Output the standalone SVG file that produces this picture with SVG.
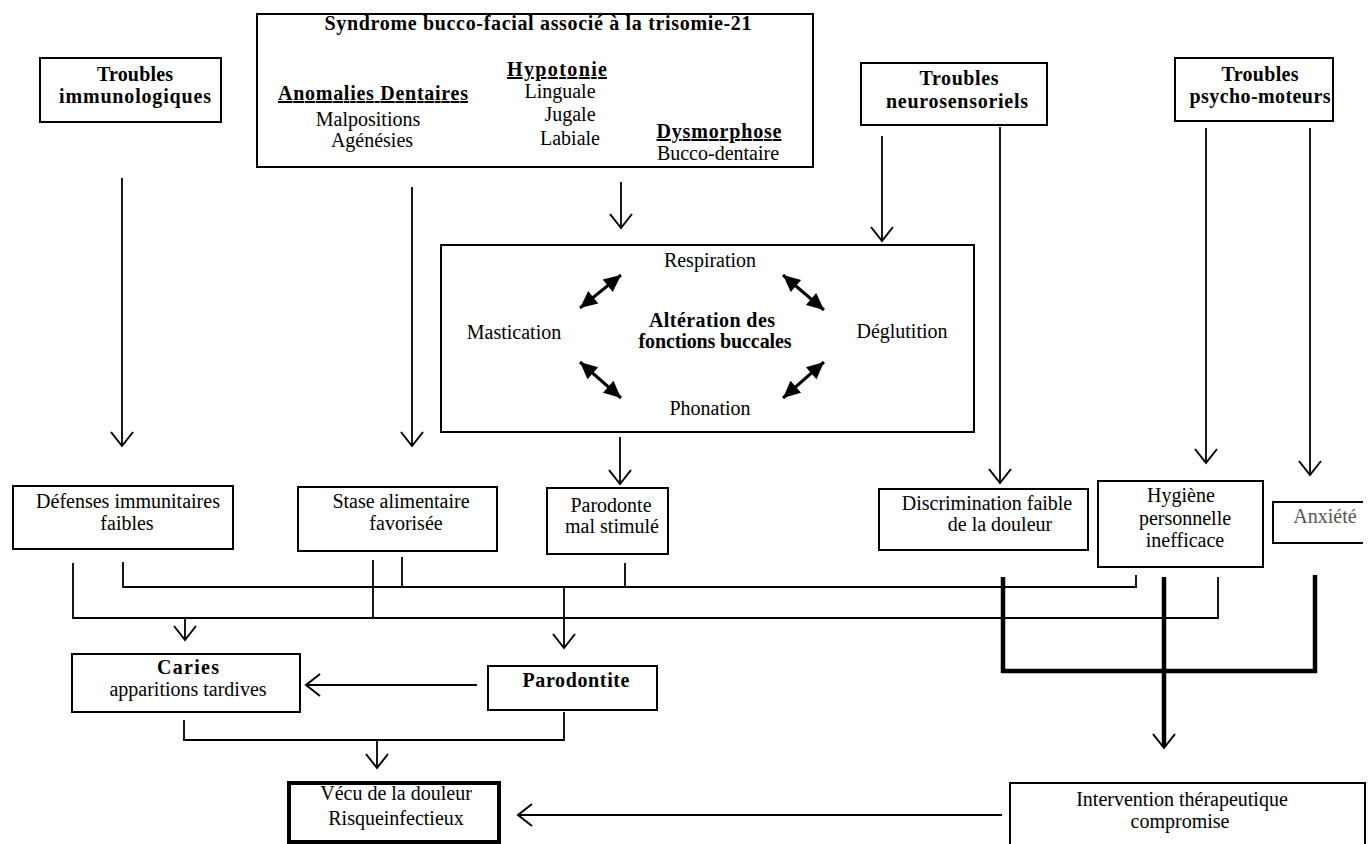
<svg xmlns="http://www.w3.org/2000/svg" width="1372" height="844" viewBox="0 0 1372 844">
<style>
.box{fill:#fff;stroke:#000;stroke-width:2}
.thick{stroke-width:4}
.t{font-family:"Liberation Serif","Times New Roman",serif;font-size:20px;text-anchor:middle;fill:#000}
.b{font-weight:bold}
.u{text-decoration:underline}
.ln{fill:none;stroke:#000;stroke-width:1.8}
.bl{fill:none;stroke:#000;stroke-width:4.5}
.da{fill:none;stroke:#000;stroke-width:3}
</style>
<defs>
<marker id="ah" viewBox="-16 -13 18 26" markerWidth="18" markerHeight="26" refX="0" refY="0" orient="auto" markerUnits="userSpaceOnUse">
<path d="M-14,-11 L0,0 L-14,11" fill="none" stroke="#000" stroke-width="2"/>
</marker>
<marker id="fh" viewBox="-18 -10 20 20" markerWidth="20" markerHeight="20" refX="0" refY="0" orient="auto-start-reverse" markerUnits="userSpaceOnUse">
<path d="M0,0 L-17,-8 L-17,8 Z" fill="#000"/>
</marker>
</defs>
<rect width="1372" height="844" fill="#fff"/>

<g id="connectors">
<path class="ln" d="M122,178 V446" marker-end="url(#ah)"/>
<path class="ln" d="M412,187 V446" marker-end="url(#ah)"/>
<path class="ln" d="M621,182 V228" marker-end="url(#ah)"/>
<path class="ln" d="M882,136 V241" marker-end="url(#ah)"/>
<path class="ln" d="M1000,127 V483" marker-end="url(#ah)"/>
<path class="ln" d="M1206,128 V463" marker-end="url(#ah)"/>
<path class="ln" d="M1310,128 V475" marker-end="url(#ah)"/>
<path class="ln" d="M620,437 V484" marker-end="url(#ah)"/>
<path class="ln" d="M123,562 V587 H1136 V575"/>
<path class="ln" d="M402,557 V587"/>
<path class="ln" d="M625,563 V587"/>
<path class="ln" d="M564,587 V648" marker-end="url(#ah)"/>
<path class="ln" d="M73,563 V618 H1218 V577"/>
<path class="ln" d="M373,560 V618"/>
<path class="ln" d="M185,618 V640" marker-end="url(#ah)"/>
<path class="bl" d="M1003,577 V671 H1315 V575"/>
<path class="bl" d="M1164,577 V747"/>
<path class="ln" d="M1164,740 V748" marker-end="url(#ah)"/>
<path class="ln" d="M477,685 H306" marker-end="url(#ah)"/>
<path class="ln" d="M184,720 V740 H564 V712"/>
<path class="ln" d="M377,740 V768" marker-end="url(#ah)"/>
<path class="ln" d="M1002,815 H518" marker-end="url(#ah)"/>
</g>

<g id="troubles-immuno">
<rect class="box" x="40" y="58" width="181" height="64"/>
<text class="t b" x="135" y="81" textLength="76">Troubles</text>
<text class="t b" x="135" y="103" textLength="152">immunologiques</text>
</g>

<g id="syndrome">
<rect class="box" x="257" y="14" width="556" height="153"/>
<text class="t b" x="538" y="30" textLength="427">Syndrome bucco-facial associé à la trisomie-21</text>
<text class="t b u" x="373" y="100" textLength="190">Anomalies Dentaires</text>
<text class="t" x="368" y="126">Malpositions</text>
<text class="t" x="372" y="147">Agénésies</text>
<text class="t b u" x="557" y="76" textLength="100">Hypotonie</text>
<text class="t" x="560" y="98">Linguale</text>
<text class="t" x="570" y="121">Jugale</text>
<text class="t" x="570" y="145">Labiale</text>
<text class="t b u" x="719" y="138" textLength="125">Dysmorphose</text>
<text class="t" x="718" y="160">Bucco-dentaire</text>
</g>

<g id="troubles-neuro">
<rect class="box" x="861" y="63" width="186" height="62"/>
<text class="t b" x="959" y="85" textLength="79">Troubles</text>
<text class="t b" x="957" y="108" textLength="142">neurosensoriels</text>
</g>

<g id="troubles-psycho">
<rect class="box" x="1175" y="58" width="158" height="63"/>
<text class="t b" x="1260" y="81" textLength="77">Troubles</text>
<text class="t b" x="1260" y="103" textLength="141">psycho-moteurs</text>
</g>

<g id="alteration">
<rect class="box" x="441" y="245" width="533" height="187"/>
<text class="t" x="710" y="267">Respiration</text>
<text class="t" x="514" y="339">Mastication</text>
<text class="t b" x="712" y="327" textLength="126">Altération des</text>
<text class="t b" x="715" y="348" textLength="153">fonctions buccales</text>
<text class="t" x="902" y="338">Déglutition</text>
<text class="t" x="710" y="415">Phonation</text>
<path class="da" d="M580,308 L621,275" marker-start="url(#fh)" marker-end="url(#fh)"/>
<path class="da" d="M783,275 L824,310" marker-start="url(#fh)" marker-end="url(#fh)"/>
<path class="da" d="M580,362 L621,398" marker-start="url(#fh)" marker-end="url(#fh)"/>
<path class="da" d="M783,398 L824,362" marker-start="url(#fh)" marker-end="url(#fh)"/>
</g>

<g id="defenses">
<rect class="box" x="13" y="486" width="220" height="63"/>
<text class="t" x="128" y="508">Défenses immunitaires</text>
<text class="t" x="127" y="530">faibles</text>
</g>

<g id="stase">
<rect class="box" x="298" y="487" width="199" height="64"/>
<text class="t" x="401" y="508">Stase alimentaire</text>
<text class="t" x="406" y="530">favorisée</text>
</g>

<g id="parodonte">
<rect class="box" x="547" y="488" width="121" height="66"/>
<text class="t" x="611" y="512">Parodonte</text>
<text class="t" x="612" y="533">mal stimulé</text>
</g>

<g id="discrimination">
<rect class="box" x="879" y="489" width="209" height="61"/>
<text class="t" x="987" y="510">Discrimination faible</text>
<text class="t" x="1000" y="531">de la douleur</text>
</g>

<g id="hygiene">
<rect class="box" x="1098" y="481" width="165" height="86"/>
<text class="t" x="1181" y="502">Hygiène</text>
<text class="t" x="1185" y="525">personnelle</text>
<text class="t" x="1185" y="547">inefficace</text>
</g>

<g id="anxiete">
<path class="box" d="M1363,502 H1273 V543 H1363" fill="none"/>
<text class="t" x="1325" y="523" style="fill:#555">Anxiété</text>
</g>

<g id="caries">
<rect class="box" x="72" y="654" width="228" height="58"/>
<text class="t b" x="188" y="674" textLength="62">Caries</text>
<text class="t" x="188" y="696">apparitions tardives</text>
</g>

<g id="parodontite">
<rect class="box" x="488" y="666" width="169" height="44"/>
<text class="t b" x="576" y="687" textLength="107">Parodontite</text>
</g>

<g id="vecu">
<rect class="box thick" x="289" y="783" width="210" height="59"/>
<text class="t" x="396" y="800">Vécu de la douleur</text>
<text class="t" x="396" y="825">Risqueinfectieux</text>
</g>

<g id="intervention">
<rect class="box" x="1010" y="783" width="355" height="70"/>
<text class="t" x="1182" y="806">Intervention thérapeutique</text>
<text class="t" x="1180" y="828">compromise</text>
</g>
</svg>
